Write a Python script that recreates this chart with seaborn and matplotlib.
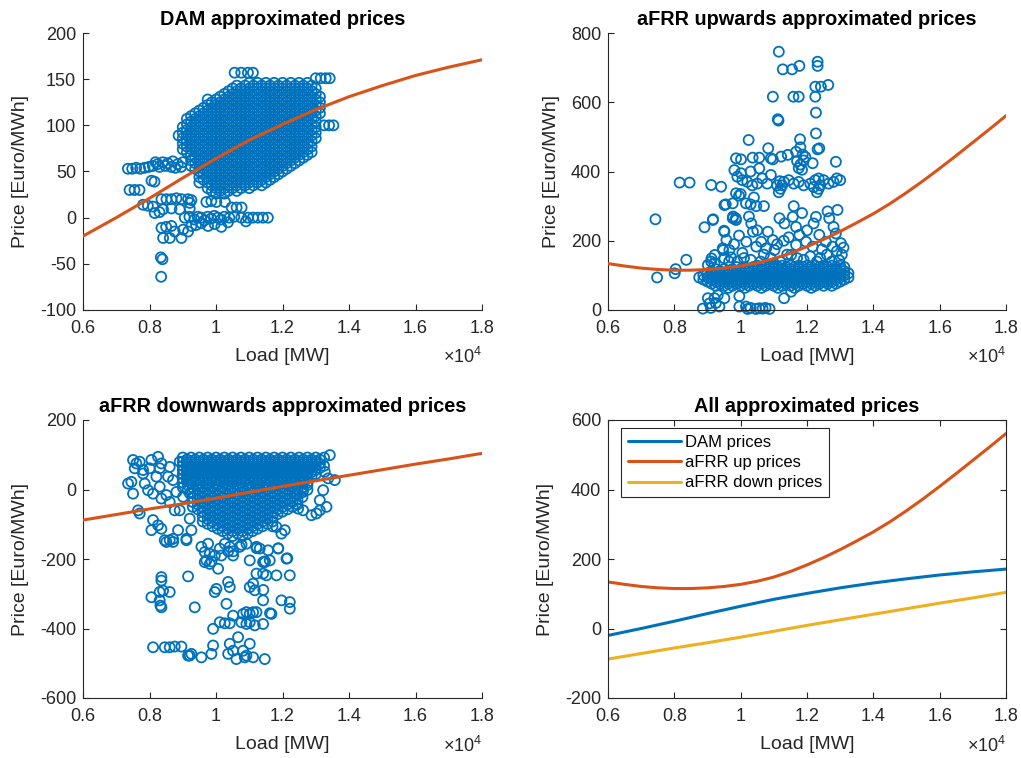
import matplotlib
matplotlib.use("Agg")
import matplotlib.pyplot as plt
import seaborn as sns

BLUE = "#0072BD"
ORANGE = "#D95319"
YELLOW = "#EDB120"
INK = "#262626"

# ---------------------------------------------------------------- fitted curves
curve_load = [6000, 6500, 7000, 7500, 8000, 8500, 9000, 9500, 10000, 10500,
              11000, 11500, 12000, 12500, 13000, 13500, 14000, 14500, 15000,
              15500, 16000, 16500, 17000, 17500, 18000]
dam_fit = [-20, -10, 0, 10.5, 21, 32, 43, 53.5, 64, 74, 84, 92.5, 101, 109,
           117, 124, 131, 137, 143, 148.5, 154, 158.5, 163, 167, 171]
afrr_up_fit = [134, 127, 121, 117, 115, 115, 117, 121, 127, 136, 148, 164, 183,
               204, 227, 252, 278, 307, 339, 373, 409, 446, 484, 522, 561]
afrr_down_fit = [-88, -80, -72, -64, -56, -48.5, -41, -33, -25, -16.5, -8, 0.5,
                 9, 17, 25, 33, 41, 49, 57, 65, 73, 80.5, 88, 96, 104]

x_tick_values = [6000, 8000, 10000, 12000, 14000, 16000, 18000]
x_tick_labels = ["0.6", "0.8", "1", "1.2", "1.4", "1.6", "1.8"]

# ---------------------------------------------------------------- DAM prices
# dense hours: (price, loads at that price level)
dam_core_rows = [
    (151, [13000, 13150, 13300, 13420]),
    (146, [11000, 11250, 11500, 11750, 12000, 12250, 12500, 12750]),
    (143, [10625, 10875, 11125, 11375, 11625, 11875, 12125, 12375, 12625, 12875]),
    (140, [10500, 10750, 11000, 11250, 11500, 11750, 12000, 12250, 12500, 12750, 13000]),
    (137, [10375, 10625, 10875, 11125, 11375, 11625, 11875, 12125, 12375, 12625, 12875]),
    (134, [10250, 10500, 10750, 11000, 11250, 11500, 11750, 12000, 12250, 12500, 12750, 13000]),
    (131, [10125, 10375, 10625, 10875, 11125, 11375, 11625, 11875, 12125, 12375, 12625, 12875, 13125]),
    (128, [9750, 10000, 10250, 10500, 10750, 11000, 11250, 11500, 11750, 12000, 12250, 12500, 12750, 13000]),
    (125, [9875, 10125, 10375, 10625, 10875, 11125, 11375, 11625, 11875, 12125, 12375, 12625, 12875, 13125]),
    (122, [9750, 10000, 10250, 10500, 10750, 11000, 11250, 11500, 11750, 12000, 12250, 12500, 12750, 13000]),
    (119, [9625, 9875, 10125, 10375, 10625, 10875, 11125, 11375, 11625, 11875, 12125, 12375, 12625, 12875, 13125]),
    (116, [9500, 9750, 10000, 10250, 10500, 10750, 11000, 11250, 11500, 11750, 12000, 12250, 12500, 12750, 13000]),
    (113, [9375, 9625, 9875, 10125, 10375, 10625, 10875, 11125, 11375, 11625, 11875, 12125, 12375, 12625, 12875, 13125]),
    (110, [9250, 9500, 9750, 10000, 10250, 10500, 10750, 11000, 11250, 11500, 11750, 12000, 12250, 12500, 12750, 13000]),
    (107, [9125, 9375, 9625, 9875, 10125, 10375, 10625, 10875, 11125, 11375, 11625, 11875, 12125, 12375, 12625, 12875]),
    (104, [9250, 9500, 9750, 10000, 10250, 10500, 10750, 11000, 11250, 11500, 11750, 12000, 12250, 12500, 12750, 13000]),
    (101, [9125, 9375, 9625, 9875, 10125, 10375, 10625, 10875, 11125, 11375, 11625, 11875, 12125, 12375, 12625, 12875]),
    (98, [9000, 9250, 9500, 9750, 10000, 10250, 10500, 10750, 11000, 11250, 11500, 11750, 12000, 12250, 12500, 12750, 13000]),
    (95, [9125, 9375, 9625, 9875, 10125, 10375, 10625, 10875, 11125, 11375, 11625, 11875, 12125, 12375, 12625, 12875]),
    (92, [9000, 9250, 9500, 9750, 10000, 10250, 10500, 10750, 11000, 11250, 11500, 11750, 12000, 12250, 12500, 12750, 13000]),
    (89, [8875, 9125, 9375, 9625, 9875, 10125, 10375, 10625, 10875, 11125, 11375, 11625, 11875, 12125, 12375, 12625, 12875]),
    (86, [9000, 9250, 9500, 9750, 10000, 10250, 10500, 10750, 11000, 11250, 11500, 11750, 12000, 12250, 12500, 12750, 13000]),
    (83, [9125, 9375, 9625, 9875, 10125, 10375, 10625, 10875, 11125, 11375, 11625, 11875, 12125, 12375, 12625, 12875]),
    (80, [9000, 9250, 9500, 9750, 10000, 10250, 10500, 10750, 11000, 11250, 11500, 11750, 12000, 12250, 12500, 12750]),
    (77, [9125, 9375, 9625, 9875, 10125, 10375, 10625, 10875, 11125, 11375, 11625, 11875, 12125, 12375, 12625, 12875]),
    (74, [9000, 9250, 9500, 9750, 10000, 10250, 10500, 10750, 11000, 11250, 11500, 11750, 12000, 12250, 12500, 12750]),
    (71, [9125, 9375, 9625, 9875, 10125, 10375, 10625, 10875, 11125, 11375, 11625, 11875, 12125, 12375, 12625, 12875]),
    (68, [9250, 9500, 9750, 10000, 10250, 10500, 10750, 11000, 11250, 11500, 11750, 12000, 12250, 12500, 12750]),
    (65, [9375, 9625, 9875, 10125, 10375, 10625, 10875, 11125, 11375, 11625, 11875, 12125, 12375, 12625]),
    (62, [9250, 9500, 9750, 10000, 10250, 10500, 10750, 11000, 11250, 11500, 11750, 12000, 12250, 12500]),
    (59, [9375, 9625, 9875, 10125, 10375, 10625, 10875, 11125, 11375, 11625, 11875, 12125, 12375]),
    (56, [9250, 9500, 9750, 10000, 10250, 10500, 10750, 11000, 11250, 11500, 11750, 12000, 12250]),
    (53, [9375, 9625, 9875, 10125, 10375, 10625, 10875, 11125, 11375, 11625, 11875, 12125]),
    (50, [9500, 9750, 10000, 10250, 10500, 10750, 11000, 11250, 11500, 11750, 12000]),
    (47, [9625, 9875, 10125, 10375, 10625, 10875, 11125, 11375, 11625, 11875]),
    (44, [9500, 9750, 10000, 10250, 10500, 10750, 11000, 11250, 11500, 11750]),
    (41, [9625, 9875, 10125, 10375, 10625, 10875, 11125, 11375, 11625]),
    (38, [9500, 9750, 10000, 10250, 10500, 10750, 11000, 11250, 11500]),
    (35, [9875, 10125, 10375, 10625, 10875, 11125, 11375]),
    (32, [9750, 10000, 10250, 10500, 10750, 11000]),
    (29, [9875, 10125, 10375, 10625]),
    (26, [10000, 10250]),
]
# single hours: (load, price)
dam_scattered = [
    (10560, 157), (10760, 157), (10960, 157), (11110, 157),
    (13250, 100), (13400, 100), (13530, 100),
    (7350, 53), (7480, 53), (7600, 54), (7720, 53), (7850, 54), (7980, 55),
    (8100, 56), (8250, 58), (8400, 60), (8550, 59), (8700, 61), (8850, 58),
    (9000, 60), (8950, 55), (8300, 55), (8650, 55), (8180, 60), (8480, 56), (8780, 54),
    (7400, 30), (7550, 30), (7700, 30), (8060, 40), (8150, 39),
    (8360, 20), (8510, 20), (8660, 20), (8810, 21), (8960, 20), (9160, 20), (9260, 19),
    (7805, 14), (7950, 13), (8106, 12), (8157, 5), (8300, 6), (8407, 9),
    (8660, 10), (8909, 9), (9210, 16), (9210, 10),
    (9710, 17), (9860, 18), (10010, 17), (10270, 17), (10470, 11), (10620, 11), (10770, 11),
    (9060, 0), (9200, 1), (9350, -2), (9450, 1), (9550, 0), (9650, -3), (9750, 1),
    (9850, -1), (9950, 2), (10050, 0), (10150, -2), (10250, 1), (10400, 0), (10550, 1),
    (10760, 0), (10960, 0), (11110, 0), (11260, 0), (11410, 0), (11560, 0),
    (9560, -6), (9760, -9), (9960, -7), (10160, -10), (10360, -5), (9400, -8), (10900, -4),
    (8360, -11), (8410, -22), (8610, -22), (8960, -22), (8760, -15), (9010, -13),
    (9160, -15), (9260, -9), (8500, -10), (8660, -9),
    (8340, -43), (8390, -45), (8350, -64),
]

# ---------------------------------------------------------------- aFRR upwards
afrr_up_core_rows = [
    (128, [10500, 10750, 11000, 11250, 11500, 11750, 12000, 12250, 12500, 12750, 13000]),
    (124, [9875, 10125, 10375, 10625, 10875, 11125, 11375, 11625, 11875, 12125, 12375, 12625, 12875, 13125]),
    (118, [9250, 9500, 9750, 10000, 10250, 10500, 10750, 11000, 11250, 11500, 11750, 12000, 12250, 12500, 12750, 13000]),
    (112, [9125, 9375, 9625, 9875, 10125, 10375, 10625, 10875, 11125, 11375, 11625, 11875, 12125, 12375, 12625, 12875, 13125]),
    (106, [9000, 9250, 9500, 9750, 10000, 10250, 10500, 10750, 11000, 11250, 11500, 11750, 12000, 12250, 12500, 12750, 13000, 13250]),
    (100, [8875, 9125, 9375, 9625, 9875, 10125, 10375, 10625, 10875, 11125, 11375, 11625, 11875, 12125, 12375, 12625, 12875, 13125]),
    (94, [8750, 9000, 9250, 9500, 9750, 10000, 10250, 10500, 10750, 11000, 11250, 11500, 11750, 12000, 12250, 12500, 12750, 13000, 13250]),
    (88, [8875, 9125, 9375, 9625, 9875, 10125, 10375, 10625, 10875, 11125, 11375, 11625, 11875, 12125, 12375, 12625, 12875, 13125]),
    (82, [9000, 9250, 9500, 9750, 10000, 10250, 10500, 10750, 11000, 11250, 11500, 11750, 12000, 12250, 12500, 12750, 13000]),
    (76, [9125, 9375, 9625, 9875, 10125, 10375, 10625, 10875, 11125, 11375, 11625, 11875, 12125, 12375, 12625, 12875]),
    (70, [9250, 9500, 9750, 10000, 10250, 10500, 10750, 11000, 11250, 11500, 11750, 12000, 12250, 12500, 12750]),
    (64, [9625, 10125, 10625, 11125, 11625, 12125]),
]
afrr_up_spikes = [
    (11150, 746), (11270, 695), (11550, 695), (11770, 705), (12320, 717), (12320, 705),
    (12250, 645), (12420, 645), (12640, 650),
    (10970, 616), (11590, 616), (11750, 616), (12250, 616),
    (12270, 570), (11120, 551), (11140, 547),
    (10240, 491), (12270, 510), (11790, 493),
    (12370, 467), (12320, 464), (10830, 467),
    (12870, 428), (12170, 424),
    (11670, 457), (11870, 449), (11700, 430), (11800, 420), (11900, 432),
    (11750, 410), (11850, 405), (11950, 442), (11800, 470),
    (9860, 438), (10010, 435), (10360, 440), (10560, 440), (10910, 438),
    (10970, 435), (11220, 443), (11420, 448),
    (9810, 404), (10010, 395), (10560, 409), (10910, 390), (10300, 400),
]
afrr_up_upper = [
    (8160, 368), (8460, 368), (9110, 361), (9410, 356),
    (9900, 385), (10050, 375), (10200, 370), (10350, 360), (10500, 365), (10650, 380), (10800, 365),
    (11100, 360), (11200, 350), (11300, 370), (11450, 375), (11600, 365), (11750, 370), (11900, 360),
    (12100, 365), (12250, 375), (12350, 350), (12400, 360), (12500, 375), (12650, 365), (12800, 370),
    (12900, 380), (13000, 375), (11150, 340), (11250, 360), (12300, 340), (12350, 380),
    (11180, 372), (12200, 355),
    (9510, 303), (9860, 337), (9760, 308), (10160, 308), (10470, 300), (9550, 305),
    (10300, 305), (10700, 300), (9950, 330), (10000, 335), (10400, 325),
    (9770, 270), (9850, 265), (9170, 262), (7430, 262), (8910, 239), (9160, 260),
]
afrr_up_middle = [
    (9120, 149), (9220, 159), (9470, 173), (9570, 202), (9500, 229), (9010, 130),
    (9110, 140), (9210, 135), (9510, 226), (9460, 178), (9660, 173), (9510, 149),
    (9710, 152), (9860, 260), (9760, 265), (10320, 250), (10370, 226), (10170, 197),
    (10470, 183), (10620, 197), (10820, 226), (10970, 202), (10770, 178), (11020, 173),
    (11170, 265), (11320, 250), (11570, 269), (11670, 240), (11770, 217), (11670, 188),
    (11520, 159), (11970, 197), (12170, 183), (12370, 217), (12570, 197), (12770, 183),
    (12270, 269), (12620, 285), (12670, 265), (12920, 289), (12870, 221), (13020, 193),
    (12970, 144), (9900, 140), (10100, 150), (10300, 145), (10600, 140), (10900, 150),
    (11200, 140), (11400, 160), (11700, 150), (11900, 145), (12100, 155), (12400, 150),
    (12600, 160), (12900, 170), (13100, 180), (9800, 190), (10050, 165), (10700, 160),
    (11100, 190), (11300, 200), (12000, 230), (12200, 250), (12450, 175), (13050, 160),
    (11850, 280), (10500, 230), (9950, 215), (11600, 300), (11450, 210), (12800, 240),
    (10250, 270), (9650, 140), (11000, 135), (12300, 140), (12750, 140),
    (8360, 145), (7480, 94), (8010, 106), (8040, 118),
]
afrr_up_low = [
    (8860, 4), (9060, 19), (9210, 34), (9010, 34), (9360, 10), (9510, 34), (9310, 43),
    (9960, 40), (9960, 10), (10160, 10), (10210, 3), (10460, 3), (10660, 4), (10870, 3),
    (10560, 5), (11310, 34), (11520, 53), (9100, 6), (9250, 20), (10300, 6), (10750, 6),
]

# ---------------------------------------------------------------- aFRR downwards
afrr_down_core_rows = [
    (92, [9000, 9250, 9500, 9750, 10000, 10250, 10500, 10750, 11000, 11250, 11500, 11750, 12000, 12250, 12500, 12750, 13000, 13250]),
    (86, [9125, 9375, 9625, 9875, 10125, 10375, 10625, 10875, 11125, 11375, 11625, 11875, 12125, 12375, 12625, 12875, 13125]),
    (80, [9000, 9250, 9500, 9750, 10000, 10250, 10500, 10750, 11000, 11250, 11500, 11750, 12000, 12250, 12500, 12750, 13000]),
    (74, [9125, 9375, 9625, 9875, 10125, 10375, 10625, 10875, 11125, 11375, 11625, 11875, 12125, 12375, 12625, 12875, 13125]),
    (68, [9000, 9250, 9500, 9750, 10000, 10250, 10500, 10750, 11000, 11250, 11500, 11750, 12000, 12250, 12500, 12750, 13000, 13250]),
    (62, [9125, 9375, 9625, 9875, 10125, 10375, 10625, 10875, 11125, 11375, 11625, 11875, 12125, 12375, 12625, 12875, 13125]),
    (56, [9000, 9250, 9500, 9750, 10000, 10250, 10500, 10750, 11000, 11250, 11500, 11750, 12000, 12250, 12500, 12750, 13000]),
    (50, [9125, 9375, 9625, 9875, 10125, 10375, 10625, 10875, 11125, 11375, 11625, 11875, 12125, 12375, 12625, 12875]),
    (44, [9000, 9250, 9500, 9750, 10000, 10250, 10500, 10750, 11000, 11250, 11500, 11750, 12000, 12250, 12500, 12750, 13000]),
    (38, [9125, 9375, 9625, 9875, 10125, 10375, 10625, 10875, 11125, 11375, 11625, 11875, 12125, 12375, 12625, 12875]),
    (32, [9000, 9250, 9500, 9750, 10000, 10250, 10500, 10750, 11000, 11250, 11500, 11750, 12000, 12250, 12500, 12750]),
    (26, [9125, 9375, 9625, 9875, 10125, 10375, 10625, 10875, 11125, 11375, 11625, 11875, 12125, 12375, 12625]),
    (20, [9000, 9250, 9500, 9750, 10000, 10250, 10500, 10750, 11000, 11250, 11500, 11750, 12000, 12250, 12500, 12750]),
    (13, [9150, 9450, 9750, 10050, 10350, 10650, 10950, 11250, 11550, 11850, 12150, 12450, 12750]),
    (6, [9000, 9300, 9600, 9900, 10200, 10500, 10800, 11100, 11400, 11700, 12000, 12300, 12600]),
    (-1, [9150, 9450, 9750, 10050, 10350, 10650, 10950, 11250, 11550, 11850, 12150, 12450, 12750]),
    (-8, [9300, 9600, 9900, 10200, 10500, 10800, 11100, 11400, 11700, 12000, 12300, 12600]),
    (-15, [9450, 9750, 10050, 10350, 10650, 10950, 11250, 11550, 11850, 12150, 12450]),
    (-22, [9300, 9600, 9900, 10200, 10500, 10800, 11100, 11400, 11700, 12000, 12300, 12600]),
    (-29, [9450, 9750, 10050, 10350, 10650, 10950, 11250, 11550, 11850, 12150, 12450]),
    (-36, [9300, 9600, 9900, 10200, 10500, 10800, 11100, 11400, 11700, 12000, 12300]),
    (-43, [9450, 9750, 10050, 10350, 10650, 10950, 11250, 11550, 11850, 12150, 12450]),
    (-50, [9300, 9600, 9900, 10200, 10500, 10800, 11100, 11400, 11700, 12000, 12300]),
    (-57, [9450, 9750, 10050, 10350, 10650, 10950, 11250, 11550, 11850, 12150]),
    (-64, [9600, 9900, 10200, 10500, 10800, 11100, 11400, 11700, 12000]),
    (-71, [9750, 10050, 10350, 10650, 10950, 11250, 11550, 11850]),
    (-78, [9600, 9900, 10200, 10500, 10800, 11100, 11400, 11700]),
    (-85, [9750, 10050, 10350, 10650, 10950, 11250, 11550]),
    (-92, [9600, 9900, 10200, 10500, 10800, 11100, 11400, 11700]),
    (-99, [9750, 10050, 10350, 10650, 10950, 11250, 11550]),
    (-106, [9900, 10200, 10500, 10800, 11100, 11400, 11700]),
    (-113, [10050, 10350, 10650, 10950, 11250]),
    (-120, [10200, 10500, 10800, 11100]),
    (-127, [10350, 10650, 10950]),
    (-134, [10500, 10800]),
]
afrr_down_left = [
    (7505, 85), (7605, 75), (7705, 80), (7555, 61), (7806, 56), (7455, 22), (7355, 17),
    (7505, -12), (7655, -60), (7705, -69), (8057, 85), (8006, 61), (8257, 94), (8357, 75),
    (8307, 61), (8608, 65), (8558, 37), (8709, 27), (7956, -2), (8107, -12), (8357, -26),
    (8508, -16), (8608, -36), (8809, -7), (8107, -88), (8057, -117), (8257, -103),
    (8357, -113), (8458, -146), (8608, -146), (8709, -142), (8859, -117), (9110, -142),
    (7806, 46), (8207, 37), (7856, 17), (8307, 8), (8909, 80), (9009, 56), (9210, 27),
    (9210, -11), (9009, -21), (8909, -60), (9210, -84), (9260, -117), (8759, -60),
]
afrr_down_right = [
    (13423, 99), (13272, 51), (13373, 32), (13573, 27), (13222, -2), (13122, -31),
    (13122, -60), (13322, -50), (13021, -69), (12871, -74), (12620, -60), (12470, -55),
    (12420, -12), (12620, -2), (12069, -117), (11969, -127), (11818, -108),
]
afrr_down_deep = [
    (8508, -151), (8709, -151), (9110, -146), (9561, -165), (9661, -180), (9762, -156),
    (9812, -185), (9963, -190), (10113, -170), (10163, -190), (10263, -156), (10414, -165),
    (10514, -190), (10715, -165), (10915, -156), (11015, -204), (11216, -165), (11316, -170),
    (11416, -209), (11567, -175), (11868, -170), (12119, -199), (10063, -228),
    (9712, -204), (9812, -214), (9661, -209),
    (10367, -178), (10518, -178), (10769, -159), (11221, -169), (11873, -169),
    (11472, -207), (12144, -198), (9865, -207),
    (8358, -252), (8358, -262), (9160, -250),
    (8057, -310), (8307, -295), (8408, -291), (8608, -295), (8307, -319), (8358, -339),
    (8328, -334), (9361, -339),
    (10012, -286), (9962, -295), (10364, -266), (10414, -281), (10314, -329),
    (11015, -281), (11116, -271), (11166, -290), (11216, -242), (11416, -242),
    (11517, -247), (11818, -247), (12219, -247), (11467, -209), (11617, -204),
    (11416, -319), (11968, -319), (12219, -324), (12219, -343), (11667, -358),
    (10514, -363), (10815, -358), (10915, -353), (11015, -358), (11116, -353),
    (11216, -353), (10765, -382), (10915, -387), (11015, -382), (11166, -391),
    (11416, -387), (10113, -382), (10263, -385), (10414, -385), (9912, -401),
    (11624, -356), (11422, -289),
    (8107, -454), (8458, -454), (8608, -454), (8759, -452), (8959, -452), (9160, -478),
    (9210, -478), (9260, -473), (9561, -483), (9862, -473), (9912, -449), (10364, -473),
    (10414, -444), (10514, -464), (10614, -488), (10664, -425), (10815, -464),
    (10865, -483), (10915, -478), (11015, -444), (11116, -483), (11467, -488),
]


def collect(rows, *point_lists):
    loads, prices = [], []
    for price, row_loads in rows:
        for load in row_loads:
            loads.append(load)
            prices.append(price)
    for points in point_lists:
        for load, price in points:
            loads.append(load)
            prices.append(price)
    return loads, prices


sns.set_theme(style="white")
plt.rcParams["font.family"] = ["Liberation Sans", "DejaVu Sans"]
plt.rcParams["mathtext.fontset"] = "custom"
plt.rcParams["mathtext.rm"] = "Liberation Sans"
plt.rcParams["axes.edgecolor"] = INK
plt.rcParams["axes.linewidth"] = 0.8

TICK_SIZE = 13
LABEL_SIZE = 14
TITLE_SIZE = 14.3

fig = plt.figure(figsize=(10.21, 7.58), dpi=100)
W, H = 1021, 758


def add_axes(left, top, right, bottom):
    return fig.add_axes([left / W, 1 - bottom / H, (right - left) / W, (bottom - top) / H])


ax_dam = add_axes(83, 33, 482, 310)
ax_up = add_axes(608, 33, 1006, 310)
ax_down = add_axes(83, 420, 482, 698)
ax_all = add_axes(608, 420, 1006, 698)


def style(ax, title, ylim, yticks, box=False):
    ax.set_xlim(6000, 18000)
    ax.set_xticks(x_tick_values)
    ax.set_xticklabels(x_tick_labels)
    ax.set_ylim(*ylim)
    ax.set_yticks(yticks)
    ax.set_yticklabels([str(v) for v in yticks])
    ax.set_title(title, fontsize=TITLE_SIZE, fontweight="bold", color="black", pad=6)
    ax.set_xlabel("Load [MW]", fontsize=LABEL_SIZE, color=INK, labelpad=8)
    ax.set_ylabel("Price [Euro/MWh]", fontsize=LABEL_SIZE, color=INK, labelpad=8)
    ax.tick_params(direction="in", length=4, width=0.8, colors=INK,
                   labelsize=TICK_SIZE, top=box, right=box, bottom=True, left=True)
    ax.tick_params(axis="x", pad=7)
    ax.tick_params(axis="y", pad=5)
    for side in ("top", "right"):
        ax.spines[side].set_visible(box)
    ax.text(1.0, -0.135, r"$\mathregular{\times10^{4}}$", transform=ax.transAxes,
            ha="right", va="top", fontsize=TICK_SIZE, color=INK)


def scatter_panel(ax, loads, prices, fit):
    sns.scatterplot(x=loads, y=prices, ax=ax, marker="o", s=52,
                    facecolor="none", edgecolor=BLUE, linewidth=1.3,
                    legend=False, clip_on=False, zorder=2)
    sns.lineplot(x=curve_load, y=fit, ax=ax, color=ORANGE, linewidth=2.2, zorder=3)


dam_loads, dam_prices = collect(dam_core_rows, dam_scattered)
scatter_panel(ax_dam, dam_loads, dam_prices, dam_fit)
style(ax_dam, "DAM approximated prices", (-100, 200), [-100, -50, 0, 50, 100, 150, 200])

up_loads, up_prices = collect(afrr_up_core_rows, afrr_up_spikes, afrr_up_upper,
                              afrr_up_middle, afrr_up_low)
scatter_panel(ax_up, up_loads, up_prices, afrr_up_fit)
style(ax_up, "aFRR upwards approximated prices", (0, 800), [0, 200, 400, 600, 800])

down_loads, down_prices = collect(afrr_down_core_rows, afrr_down_left,
                                  afrr_down_right, afrr_down_deep)
scatter_panel(ax_down, down_loads, down_prices, afrr_down_fit)
style(ax_down, "aFRR downwards approximated prices", (-600, 200), [-600, -400, -200, 0, 200])

sns.lineplot(x=curve_load, y=dam_fit, ax=ax_all, color=BLUE, linewidth=2.2, label="DAM prices")
sns.lineplot(x=curve_load, y=afrr_up_fit, ax=ax_all, color=ORANGE, linewidth=2.2, label="aFRR up prices")
sns.lineplot(x=curve_load, y=afrr_down_fit, ax=ax_all, color=YELLOW, linewidth=2.2, label="aFRR down prices")
style(ax_all, "All approximated prices", (-200, 600), [-200, 0, 200, 400, 600], box=True)
leg = ax_all.legend(loc="upper left", bbox_to_anchor=(13 / 398, 1 - 8 / 278),
                    borderaxespad=0, fontsize=12, frameon=True, fancybox=False,
                    edgecolor=INK, framealpha=1, handlelength=3.2,
                    handletextpad=0.25, labelspacing=0.32, borderpad=0.4)
leg.get_frame().set_linewidth(0.8)
for text in leg.get_texts():
    text.set_color("black")

fig.savefig("out.png", dpi=100, facecolor="white")
